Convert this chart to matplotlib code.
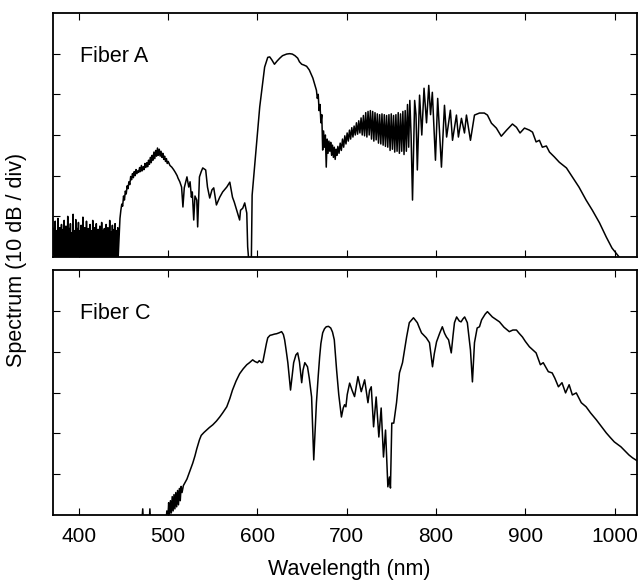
import matplotlib
matplotlib.use("Agg")
import matplotlib.pyplot as plt

plt.rcParams['font.family'] = ['Liberation Sans', 'DejaVu Sans']

# ---------------- data ----------------
wavelength_ticks = [400, 500, 600, 700, 800, 900, 1000]
div_ticks = [1, 2, 3, 4, 5]

# Fiber A: noisy floor 372-444 nm
fiberA_noise_nm = [
    372.0, 372.5, 373.0, 373.5, 374.0, 374.5, 375.0, 375.5, 376.0, 376.5, 377.0, 377.5, 378.0,
    378.5, 379.0, 379.5, 380.0, 380.5, 381.0, 381.5, 382.0, 382.5, 383.0, 383.5, 384.0, 384.5,
    385.0, 385.5, 386.0, 386.5, 387.0, 387.5, 388.0, 388.5, 389.0, 389.5, 390.0, 390.5, 391.0,
    391.5, 392.0, 392.5, 393.0, 393.5, 394.0, 394.5, 395.0, 395.5, 396.0, 396.5, 397.0, 397.5,
    398.0, 398.5, 399.0, 399.5, 400.0, 400.5, 401.0, 401.5, 402.0, 402.5, 403.0, 403.5, 404.0,
    404.5, 405.0, 405.5, 406.0, 406.5, 407.0, 407.5, 408.0, 408.5, 409.0, 409.5, 410.0, 410.5,
    411.0, 411.5, 412.0, 412.5, 413.0, 413.5, 414.0, 414.5, 415.0, 415.5, 416.0, 416.5, 417.0,
    417.5, 418.0, 418.5, 419.0, 419.5, 420.0, 420.5, 421.0, 421.5, 422.0, 422.5, 423.0, 423.5,
    424.0, 424.5, 425.0, 425.5, 426.0, 426.5, 427.0, 427.5, 428.0, 428.5, 429.0, 429.5, 430.0,
    430.5, 431.0, 431.5, 432.0, 432.5, 433.0, 433.5, 434.0, 434.5, 435.0, 435.5, 436.0, 436.5,
    437.0, 437.5, 438.0, 438.5, 439.0, 439.5, 440.0, 440.5, 441.0, 441.5, 442.0, 442.5, 443.0,
    443.5, 444.0,
]
fiberA_noise_div = [
    0.05, 0.72, -0.2, 0.88, 0.0, 0.55, -0.1, 0.65, 0.05, 0.95, -0.2, 0.6, 0.0,
    0.72, 0.05, 0.5, -0.1, 0.8, 0.0, 0.58, -0.2, 0.68, 0.05, 0.9, 0.0, 0.52,
    -0.1, 0.76, 0.0, 0.55, 0.05, 1.0, -0.2, 0.62, 0.0, 0.7, -0.1, 0.82, 0.05,
    0.54, -0.2, 0.6, 0.05, 1.05, 0.0, 0.65, -0.1, 0.58, 0.0, 0.92, -0.2, 0.56,
    0.0, 0.7, 0.05, 0.85, -0.1, 0.52, 0.0, 0.65, -0.2, 0.78, 0.05, 0.6, 0.0,
    0.98, -0.1, 0.55, 0.0, 0.72, 0.05, 0.58, -0.2, 0.88, 0.0, 0.6, -0.1, 0.7,
    0.05, 0.52, 0.0, 0.8, -0.2, 0.65, 0.0, 0.55, -0.1, 0.9, 0.05, 0.6, -0.2,
    0.72, 0.05, 0.54, 0.0, 0.82, -0.1, 0.6, 0.0, 0.68, -0.2, 0.56, 0.0, 0.76,
    0.05, 0.6, -0.1, 0.85, 0.0, 0.52, -0.2, 0.65, 0.05, 0.7, 0.0, 0.55, -0.1,
    0.8, 0.0, 0.6, 0.05, 0.72, -0.2, 0.58, 0.0, 0.9, -0.1, 0.62, 0.05, 0.54,
    0.0, 0.78, -0.2, 0.6, 0.0, 0.68, -0.1, 0.82, 0.05, 0.56, -0.2, 0.65, 0.05,
    0.72, 0.0,
]

# Fiber A: rest of the spectrum
fiberA_main_nm = [
    445, 446, 447, 448, 449, 450, 451, 452, 453, 454, 455, 456, 457, 458, 459, 460, 461, 462, 463,
    464, 465, 466, 467, 468, 469, 470, 471, 472, 473, 474, 475, 476, 477, 478, 479, 480, 481, 482,
    483, 484, 485, 486, 487, 488, 489, 490, 491, 492, 493, 494, 495, 496, 497, 498, 499, 500, 502,
    504, 506, 508, 510, 511, 513, 515,
    516.5, 518, 521, 523, 524.5, 526, 527, 528.6, 530, 532, 533, 535, 537, 538.7, 542, 544, 546.5,
    549, 551, 554, 557.7, 561, 565.6, 569, 572, 574, 576.7, 578, 580, 581, 583.5, 585.7, 588, 589,
    591, 593, 594, 602.5, 608, 611.5, 613.7, 616, 619, 622, 625, 628, 632.6, 636, 639, 642, 645,
    647, 649.5, 652, 655, 658, 662, 664, 666, 667, 668, 669, 670, 671, 672, 673, 674, 675, 676, 677,
    678, 679, 680, 681, 682, 683, 684, 685, 686, 687, 688, 689, 690,
    691.3, 692.6, 693.9, 695.2, 696.5, 697.8, 699.1, 700.4, 701.7, 703.0, 704.3, 705.6, 706.9,
    708.2, 709.5, 710.8, 712.1, 713.4, 714.7, 716.0, 717.3, 718.6, 719.9, 721.2, 722.5, 723.8,
    725.1, 726.4, 727.7, 729.0, 730.3, 731.6, 732.9, 734.2, 735.5, 736.8, 738.1, 739.4, 740.7,
    742.0, 743.3, 744.6, 745.9, 747.2, 748.5, 749.8, 751.1, 752.4, 753.7, 755.0, 756.3, 757.6,
    758.9, 760.2, 761.5, 762.8, 764.1, 765.4, 766.7, 768.0, 769.3, 770.6, 772.0, 773.6, 776.0,
    777.5, 779.0, 781.5, 784.0, 786.5, 789.3, 791.8, 793.8, 795.8, 799.3, 801.8, 806.0, 809.4,
    811.8, 816.0, 818.4, 822.8, 825.0, 828.4, 831.8, 834.0, 838.5, 843, 848.6, 854, 857.5, 862,
    867.5, 873, 879, 885.5, 890, 894, 899, 904.5, 908, 912, 915.7, 919, 923.5, 927, 932.5, 938,
    946, 952.6, 960, 968, 975, 983, 990.6, 997, 1005, 1015,
]
fiberA_main_div = [
    0.5, 0.95, 1.15, 1.3, 1.25, 1.5, 1.4, 1.62, 1.55, 1.75, 1.68, 1.85, 1.78, 1.98, 1.9, 2.05, 1.95,
    2.1, 2.0, 2.15, 2.05, 2.12, 2.08, 2.2, 2.1, 2.25, 2.12, 2.22, 2.15, 2.3, 2.2, 2.32, 2.22, 2.38,
    2.28, 2.45, 2.32, 2.5, 2.38, 2.58, 2.42, 2.62, 2.48, 2.68, 2.5, 2.65, 2.48, 2.6, 2.45, 2.55, 2.4,
    2.48, 2.35, 2.42, 2.3, 2.35, 2.25, 2.21, 2.15, 2.08, 2.0, 1.94, 1.85, 1.72,
    1.23, 1.7, 1.97, 1.72, 1.85, 1.47, 1.6, 0.91, 1.5, 1.40, 0.74, 1.97, 2.1, 2.19, 2.14, 1.72, 1.45,
    1.65, 1.70, 1.28, 1.47, 1.60, 1.72, 1.84, 1.47, 1.35, 1.15, 1.05, 0.91, 1.15, 1.2, 1.33, 1.08,
    0.25,
    -0.3, -0.3, 1.52, 3.69, 4.67, 4.91, 4.92, 4.85, 4.74, 4.82, 4.89, 4.95, 4.99, 5.0, 4.99, 4.95,
    4.89,
    4.8, 4.74, 4.72, 4.69, 4.6, 4.4, 4.25, 4.1, 3.9, 4.0, 3.6, 3.75, 3.3, 3.5, 2.63, 3.1, 2.7, 3.0,
    2.21,
    2.9, 2.55, 2.85, 2.6, 2.82, 2.5, 2.75, 2.45, 2.7, 2.4, 2.65, 2.5, 2.72,
    2.55, 2.8, 2.62, 2.9, 2.7, 2.98, 2.78, 3.05, 2.85, 3.12, 2.9, 3.18, 2.95,
    3.22, 3.0, 3.3, 3.02, 3.35, 3.05, 3.42, 3.0, 3.48, 2.98, 3.55, 2.95, 3.58,
    3.0, 3.6, 2.9, 3.58, 2.85, 3.55, 2.88, 3.52, 2.8, 3.5, 2.78, 3.52, 2.75,
    3.5, 2.72, 3.48, 2.7, 3.5, 2.62, 3.52, 2.65, 3.48, 2.58, 3.5, 2.6, 3.55,
    2.55, 3.52, 2.6, 3.58, 2.52, 3.6, 2.6, 3.75, 2.7, 3.85, 3.0, 1.40, 3.85,
    3.5, 2.14, 3.98, 3.0, 4.15, 3.3, 4.22, 3.5, 4.05, 2.38, 3.9, 2.21, 3.73,
    2.95, 3.61, 2.87, 3.49, 2.95, 3.41, 3.05, 3.49, 2.87, 3.49, 3.54, 3.54, 3.49, 3.29,
    3.17, 2.97, 3.12, 3.27, 3.19, 3.05, 3.17, 3.12, 3.07, 2.83, 2.87, 2.7, 2.73, 2.58, 2.46, 2.33,
    2.19, 1.97, 1.72, 1.40, 1.15, 0.84, 0.49, 0.22, 0.0, -0.4,
]

fiberC_nm = [
    470, 471.5, 472.5, 478.5, 479.5, 480.5, 497, 498.5, 499.5, 500.5, 501.5, 502.5, 503.5, 504.5,
    505.5, 506.5, 507.5, 508.5, 509.5, 510.5, 511.5, 512.5, 513.5, 514.5, 515.5, 517, 519, 521, 523,
    525, 527.5, 530, 532, 535, 537, 540, 543, 546, 550, 554, 557.7, 561, 565.6, 569, 572, 576, 580,
    584, 588, 591, 594.6, 597, 600, 602, 604.7, 606, 608, 610, 611.5, 614, 616, 619, 621.5, 624, 627,
    629, 630.4, 632, 634, 637, 639, 640.5, 643, 645, 647, 649.5, 651, 653, 656, 658, 660.6, 663, 665,
    666, 668, 669.6, 671, 673, 675, 677, 679.5, 682, 684, 686, 688.6, 691, 694, 696, 697.5, 699,
    700.5, 703.2, 706, 708.7, 712.5, 716.2, 720, 723.7, 725.5, 727.4, 730, 732.9, 735.9, 738.5,
    741.1, 743.4, 746, 747.8, 748.9, 750.4, 752.6, 755.7, 759, 762.4, 767, 770, 774.7, 779, 781,
    783.7, 789, 792.6, 794.5, 796, 798, 800.5, 804, 807, 809.5, 811.6, 814, 817, 819, 820.6, 823,
    826, 828, 830, 832, 835, 838.5, 840.7, 843, 846, 848.6, 851, 855, 857.5, 863, 871, 876, 882,
    886, 890, 893, 896.7, 900, 904.5, 908, 912, 916.8, 920, 925.7, 930, 933, 937, 941, 945, 949,
    952.6, 957, 962.6, 968, 973, 979.5, 985, 990.6, 995, 999.6, 1004, 1007, 1011, 1016, 1020, 1025,
]
fiberC_div = [
    -0.3, 0.15, -0.3, -0.3, 0.15, -0.3, -0.3, 0.1, -0.2, 0.3, 0.0, 0.35, 0.05, 0.45,
    0.1, 0.5, 0.15, 0.55, 0.2, 0.6, 0.25, 0.65, 0.35, 0.7, 0.55, 0.72, 0.8, 0.88, 1.0,
    1.12, 1.27, 1.45, 1.62, 1.84, 1.95, 2.02, 2.08, 2.14, 2.21, 2.3, 2.40, 2.5, 2.65, 2.85, 3.06,
    3.28, 3.46, 3.58, 3.68, 3.73, 3.80, 3.76, 3.73, 3.78, 3.73, 3.75, 3.97, 4.2, 4.34, 4.4, 4.41,
    4.43, 4.44, 4.46, 4.49, 4.42, 4.29, 4.05, 3.73, 3.06, 3.45, 3.73, 3.92, 3.97, 3.75, 3.24, 3.55,
    3.73, 3.63, 3.35, 2.89, 1.35, 2.3, 2.75, 3.4, 3.87, 4.2, 4.46, 4.56, 4.61, 4.62, 4.58, 4.48,
    4.29, 3.55, 2.95, 2.40, 2.62, 2.70, 2.65, 2.95, 3.23, 3.05, 2.90, 3.39, 3.02, 3.31, 2.75, 3.05,
    3.14, 2.16, 2.89, 1.91, 2.62, 1.42, 2.08, 0.69, 0.93, 0.66, 2.25, 2.25, 2.75, 3.48, 3.73, 4.36,
    4.71, 4.83, 4.71, 4.6, 4.46, 4.34, 4.22, 3.9, 3.63, 3.95, 4.24, 4.45, 4.61, 4.45, 4.36, 4.29,
    3.97, 4.4, 4.71, 4.85, 4.75, 4.73, 4.8, 4.85, 4.71, 4.04, 3.26, 4.22, 4.58, 4.61, 4.78, 4.92,
    4.98, 4.85, 4.73, 4.6, 4.49, 4.53, 4.53, 4.45, 4.36, 4.25, 4.12, 4.05, 3.97, 3.68, 3.73, 3.51,
    3.48, 3.35, 3.14, 3.24, 2.99, 3.19, 2.94, 2.99, 2.75, 2.65, 2.5, 2.33, 2.17, 2.01, 1.9, 1.79,
    1.72, 1.67, 1.58, 1.47, 1.4, 1.33,
]

panel_labels = ["Fiber A", "Fiber C"]

fiberA_nm = fiberA_noise_nm + fiberA_main_nm
fiberA_div = fiberA_noise_div + fiberA_main_div

# ---------------- figure ----------------
W, H = 640, 581
fig = plt.figure(figsize=(W / 100, H / 100), dpi=100)

def rect(l, t, r, b):
    return [l / W, 1 - b / H, (r - l) / W, (b - t) / H]

axA = fig.add_axes(rect(53, 13, 637, 257))
axC = fig.add_axes(rect(53, 270, 637, 515))

for ax, x, y, lab in [(axA, fiberA_nm, fiberA_div, panel_labels[0]),
                      (axC, fiberC_nm, fiberC_div, panel_labels[1])]:
    ax.plot(x, y, color='black', lw=1.1)
    ax.set_xlim(371, 1025)
    ax.set_ylim(0, 6)
    ax.set_xticks(wavelength_ticks)
    ax.set_yticks(div_ticks)
    ax.set_yticklabels([])
    ax.tick_params(direction='in', length=5, width=0.8, top=True, right=True,
                   labelsize=15, pad=9)
    for s in ax.spines.values():
        s.set_linewidth(1.3)
    ax.text(0.047, 0.80, lab, transform=ax.transAxes, fontsize=15.5,
            ha='left', va='baseline')

axA.set_xticklabels([])

fig.text(17 / W, 1 - 260 / H, "Spectrum (10 dB / div)", rotation=90,
         fontsize=15.5, ha='center', va='center')
fig.text(349 / W, 1 - 575 / H, "Wavelength (nm)", fontsize=15.5,
         ha='center', va='baseline')

fig.savefig("out.png", dpi=100)
